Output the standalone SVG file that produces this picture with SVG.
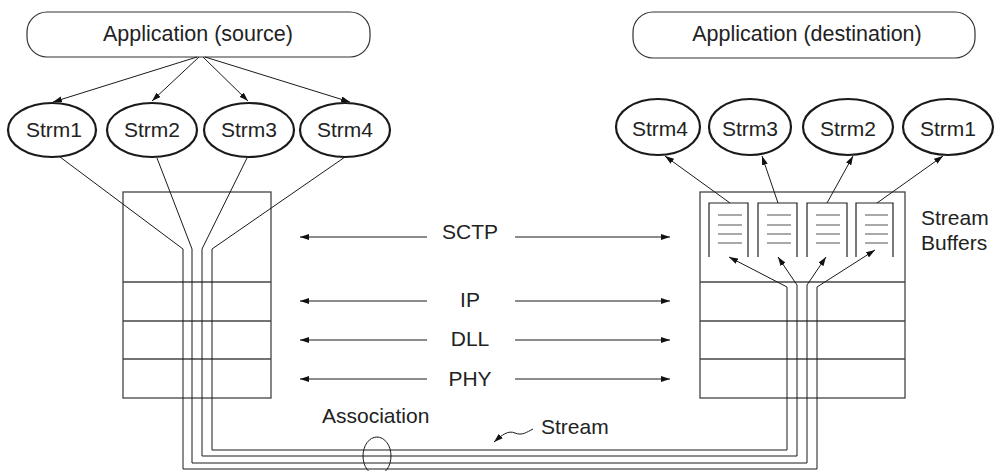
<svg xmlns="http://www.w3.org/2000/svg" width="1000" height="471" viewBox="0 0 1000 471">
  <style>
    .lbl { font-family: "Liberation Sans", Arial, sans-serif; font-size: 21px; fill: #222; }
    .big { font-size: 21.5px; }
    .app { fill: #fff; stroke: #333; stroke-width: 1.2; }
    .strm { fill: #fff; stroke: #1a1a1a; stroke-width: 2.2; }
    .box { fill: none; stroke: #444; stroke-width: 1.3; }
    .ln { fill: none; stroke: #1a1a1a; stroke-width: 1; }
    .buf { fill: none; stroke: #222; stroke-width: 1.2; }
    .bufl { fill: none; stroke: #555; stroke-width: 1.2; }
  </style>
  <defs>
    <marker id="arr" markerUnits="userSpaceOnUse" markerWidth="9" markerHeight="6" refX="9" refY="3" orient="auto">
      <path d="M0,0 L9,3 L0,6 z" fill="#111"/>
    </marker>
  </defs>

  <rect width="1000" height="471" fill="#fff"/>

  <!-- applications -->
  <g id="app-source">
    <rect class="app" x="27" y="12" width="343" height="45" rx="20" ry="20"/>
    <text class="lbl big" x="198" y="41" text-anchor="middle">Application (source)</text>
  </g>
  <g id="app-destination">
    <rect class="app" x="633" y="12" width="342" height="46" rx="20" ry="20"/>
    <text class="lbl big" x="807" y="41" text-anchor="middle">Application (destination)</text>
  </g>

  <!-- source streams -->
  <g id="src-strm1"><ellipse class="strm" cx="52" cy="130" rx="44" ry="27"/><text class="lbl" x="54" y="137" text-anchor="middle">Strm1</text></g>
  <g id="src-strm2"><ellipse class="strm" cx="152" cy="130" rx="45" ry="27"/><text class="lbl" x="152" y="137" text-anchor="middle">Strm2</text></g>
  <g id="src-strm3"><ellipse class="strm" cx="249" cy="130" rx="45" ry="27"/><text class="lbl" x="249" y="137" text-anchor="middle">Strm3</text></g>
  <g id="src-strm4"><ellipse class="strm" cx="345" cy="130" rx="45" ry="27"/><text class="lbl" x="345" y="137" text-anchor="middle">Strm4</text></g>

  <!-- destination streams -->
  <g id="dst-strm4"><ellipse class="strm" cx="658" cy="127" rx="42" ry="28"/><text class="lbl" x="660" y="136" text-anchor="middle">Strm4</text></g>
  <g id="dst-strm3"><ellipse class="strm" cx="750" cy="127" rx="41" ry="28"/><text class="lbl" x="750" y="136" text-anchor="middle">Strm3</text></g>
  <g id="dst-strm2"><ellipse class="strm" cx="848" cy="127" rx="45" ry="28"/><text class="lbl" x="848" y="136" text-anchor="middle">Strm2</text></g>
  <g id="dst-strm1"><ellipse class="strm" cx="948" cy="127" rx="45" ry="28"/><text class="lbl" x="948" y="136" text-anchor="middle">Strm1</text></g>

  <!-- source protocol stack -->
  <g id="src-stack">
    <rect class="box" x="123" y="192" width="148" height="206"/>
    <line class="box" x1="123" y1="282" x2="271" y2="282"/>
    <line class="box" x1="123" y1="321" x2="271" y2="321"/>
    <line class="box" x1="123" y1="359" x2="271" y2="359"/>
  </g>

  <!-- destination protocol stack with stream buffers -->
  <g id="dst-stack">
    <rect class="box" x="700" y="192" width="205" height="206"/>
    <line class="box" x1="700" y1="282" x2="905" y2="282"/>
    <line class="box" x1="700" y1="321" x2="905" y2="321"/>
    <line class="box" x1="700" y1="359" x2="905" y2="359"/>
  </g>
  <g id="buffers">
    <path class="buf" d="M709,257 V203 H748 V257"/>
    <path class="bufl" d="M718,215 H742 M718,225 H742 M718,234 H742 M718,243 H742"/>
    <path class="buf" d="M758,257 V203 H797 V257"/>
    <path class="bufl" d="M767,215 H791 M767,225 H791 M767,234 H791 M767,243 H791"/>
    <path class="buf" d="M807,257 V203 H847 V257"/>
    <path class="bufl" d="M816,215 H840 M816,225 H840 M816,234 H840 M816,243 H840"/>
    <path class="buf" d="M856,257 V203 H893 V257"/>
    <path class="bufl" d="M865,215 H888 M865,225 H888 M865,234 H888 M865,243 H888"/>
  </g>
  <g id="buffers-label">
    <text class="lbl" x="921" y="225">Stream</text>
    <text class="lbl" x="921" y="250">Buffers</text>
  </g>

  <!-- layer labels -->
  <g id="layers">
    <text class="lbl" x="470" y="239" text-anchor="middle">SCTP</text>
    <text class="lbl" x="470" y="307" text-anchor="middle">IP</text>
    <text class="lbl" x="470" y="346" text-anchor="middle">DLL</text>
    <text class="lbl" x="470" y="386" text-anchor="middle">PHY</text>
    <text class="lbl" x="322" y="423">Association</text>
    <text class="lbl" x="541" y="434">Stream</text>
  </g>

  <g id="connectors">
    <!-- application to source streams -->
    <line class="ln" x1="197" y1="57" x2="53" y2="102" marker-end="url(#arr)"/>
    <line class="ln" x1="199" y1="57" x2="152" y2="101" marker-end="url(#arr)"/>
    <line class="ln" x1="203" y1="57" x2="248" y2="101" marker-end="url(#arr)"/>
    <line class="ln" x1="205" y1="57" x2="350" y2="102" marker-end="url(#arr)"/>

    <!-- streams bundled into the association -->
    <path class="ln" d="M60,157 L183,249 V469 H817 V287 L875,250" marker-end="url(#arr)"/>
    <path class="ln" d="M157,158 L192,249 V463 H807 V285 L826,257" marker-end="url(#arr)"/>
    <path class="ln" d="M247,158 L202,249 V456 H797 V285 L778,257" marker-end="url(#arr)"/>
    <path class="ln" d="M345,157 L212,249 V450 H787 V287 L729,257" marker-end="url(#arr)"/>

    <!-- buffers to destination streams -->
    <line class="ln" x1="730" y1="203" x2="665" y2="156" marker-end="url(#arr)"/>
    <line class="ln" x1="778" y1="203" x2="762" y2="156" marker-end="url(#arr)"/>
    <line class="ln" x1="827" y1="203" x2="853" y2="156" marker-end="url(#arr)"/>
    <line class="ln" x1="877" y1="203" x2="943" y2="156" marker-end="url(#arr)"/>

    <!-- peer layer arrows -->
    <line class="ln" x1="427" y1="237" x2="300" y2="237" marker-end="url(#arr)"/>
    <line class="ln" x1="515" y1="237" x2="670" y2="237" marker-end="url(#arr)"/>
    <line class="ln" x1="427" y1="301" x2="300" y2="301" marker-end="url(#arr)"/>
    <line class="ln" x1="515" y1="301" x2="670" y2="301" marker-end="url(#arr)"/>
    <line class="ln" x1="427" y1="340" x2="300" y2="340" marker-end="url(#arr)"/>
    <line class="ln" x1="515" y1="340" x2="670" y2="340" marker-end="url(#arr)"/>
    <line class="ln" x1="427" y1="379" x2="300" y2="379" marker-end="url(#arr)"/>
    <line class="ln" x1="515" y1="379" x2="670" y2="379" marker-end="url(#arr)"/>

    <!-- association loop and stream pointer -->
    <ellipse class="ln" cx="377" cy="456" rx="14" ry="19"/>
    <path class="ln" d="M533,429 C527,432 522,436 515,433 C508,430 502,435 494,442" marker-end="url(#arr)"/>
  </g>
</svg>
